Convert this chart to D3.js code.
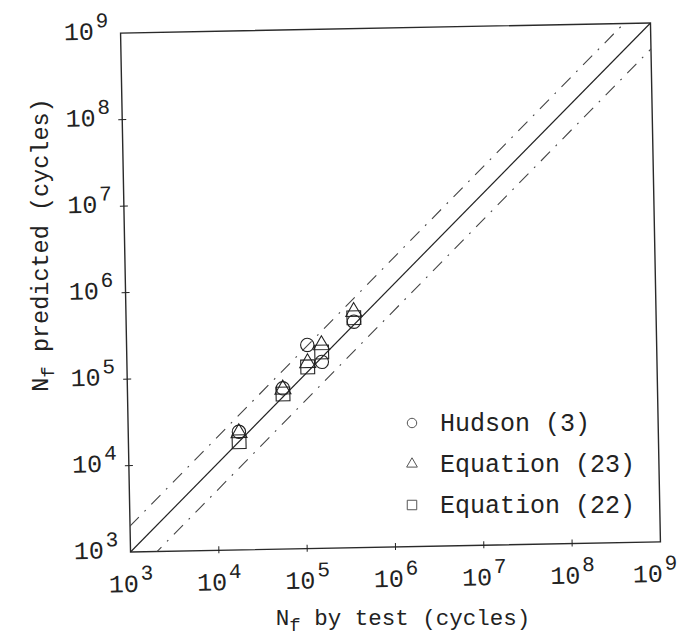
<!DOCTYPE html>
<html>
<head>
<meta charset="utf-8">
<script src="https://cdn.jsdelivr.net/npm/d3@7.9.0/dist/d3.min.js"></script>
<style>
  body { margin: 0; background: #fff; }
  svg { display: block; }
  text { font-family: "Liberation Mono", "DejaVu Sans Mono", monospace; fill: #222; }
</style>
</head>
<body>
<svg id="chart" width="678" height="640"></svg>
<script>
// tick exponents shared by both axes
const exponents = [3, 4, 5, 6, 7, 8, 9];

// N_f by test (cycles), one value per specimen
const testCycles = [17900, 57500, 111000, 161000, 379000];

// N_f predicted (cycles) per method, same order as testCycles
const hudson = [23200, 72300, 226000, 143000, 410000];
const equation23 = [22500, 70300, 140000, 224000, 535000];
const equation22 = [17800, 62100, 126000, 186000, 456000];

const seriesNames = ['Hudson (3)', 'Equation (23)', 'Equation (22)'];
const bandFactor = 2;

const svg = d3.select('#chart');

// plot frame (the scan is tilted about a degree, so the plot group is rotated)
const pLeft = 125.5, pRight = 655.5, pTop = 28, pBottom = 547;
const cx = (pLeft + pRight) / 2, cy = (pTop + pBottom) / 2;

const x = d3.scaleLog().domain([1e3, 1e9]).range([pLeft, pRight]);
const y = d3.scaleLog().domain([1e3, 1e9]).range([pBottom, pTop]);

const g = svg.append('g').attr('transform', `rotate(-1.1, ${cx}, ${cy})`);

g.append('defs').append('clipPath').attr('id', 'plotclip')
  .append('rect')
  .attr('x', pLeft).attr('y', pTop)
  .attr('width', pRight - pLeft).attr('height', pBottom - pTop);

// frame
g.append('rect')
  .attr('x', pLeft).attr('y', pTop)
  .attr('width', pRight - pLeft).attr('height', pBottom - pTop)
  .attr('fill', 'none').attr('stroke', '#2a2a2a').attr('stroke-width', 1.4);

// ticks crossing the left and bottom axes
const tickVals = exponents.map(e => Math.pow(10, e));
g.selectAll('.xtick').data(tickVals.slice(1, -1)).join('line')
  .attr('x1', d => x(d)).attr('x2', d => x(d))
  .attr('y1', pBottom - 4).attr('y2', pBottom + 3)
  .attr('stroke', '#222');
g.selectAll('.ytick').data(tickVals.slice(1, -1)).join('line')
  .attr('y1', d => y(d)).attr('y2', d => y(d))
  .attr('x1', pLeft - 4).attr('x2', pLeft + 4)
  .attr('stroke', '#222');

// tick labels 10^n
function powLabel(sel) {
  sel.append('tspan').text('10');
  sel.append('tspan').attr('dx', 2).attr('dy', -12).attr('font-size', 21).text(d => d);
}
g.selectAll('.xlab').data(exponents).join('text')
  .attr('x', d => Math.min(x(Math.pow(10, d)), pRight - 6))
  .attr('y', pBottom + 40)
  .attr('text-anchor', 'middle')
  .attr('font-size', 25)
  .call(powLabel);
g.selectAll('.ylab').data(exponents).join('text')
  .attr('x', pLeft - 12)
  .attr('y', d => y(Math.pow(10, d)) + 6)
  .attr('text-anchor', 'end')
  .attr('font-size', 25)
  .call(powLabel);

// axis titles
const xt = svg.append('text')
  .attr('x', 403).attr('y', 625)
  .attr('text-anchor', 'middle').attr('font-size', 22.5);
xt.append('tspan').text('N');
xt.append('tspan').attr('dy', 6).attr('font-size', 19).text('f');
xt.append('tspan').attr('dy', -6).text(' by test (cycles)');

const yt = svg.append('text')
  .attr('transform', 'translate(48, 245) rotate(-90)')
  .attr('text-anchor', 'middle').attr('font-size', 23.5);
yt.append('tspan').text('N');
yt.append('tspan').attr('dy', 6).attr('font-size', 19).text('f');
yt.append('tspan').attr('dy', -6).text(' predicted (cycles)');

// 1:1 line and factor-of-2 bands
const plot = g.append('g').attr('clip-path', 'url(#plotclip)');
const line = d3.line().x(d => x(d[0])).y(d => y(d[1]));
plot.append('path')
  .attr('d', line([[1e3, 1e3], [1e9, 1e9]]))
  .attr('stroke', '#222').attr('stroke-width', 1.2).attr('fill', 'none');
[bandFactor, 1 / bandFactor].forEach(f => {
  plot.append('path')
    .attr('d', line([[1e2, 1e2 * f], [1e10, 1e10 * f]]))
    .attr('stroke', '#444').attr('stroke-width', 1.1).attr('fill', 'none')
    .attr('stroke-dasharray', '13,8,1.8,8');
});

// markers
const shapes = [d3.symbolCircle, d3.symbolTriangle, d3.symbolSquare];
const sizes = [140, 110, 190];
const series = [hudson, equation23, equation22];
series.forEach((vals, i) => {
  plot.selectAll(null).data(vals).join('path')
    .attr('transform', (d, j) => `translate(${x(testCycles[j])}, ${y(d)})`)
    .attr('d', d3.symbol().type(shapes[i]).size(sizes[i]))
    .attr('fill', 'none').attr('stroke', '#222').attr('stroke-width', 1.1);
});

// legend
const legendSizes = [70, 50, 90];
const legend = svg.append('g');
seriesNames.forEach((name, i) => {
  const ly = 423 + i * 41;
  legend.append('path')
    .attr('transform', `translate(412, ${ly})`)
    .attr('d', d3.symbol().type(shapes[i]).size(legendSizes[i]))
    .attr('fill', 'none').attr('stroke', '#555').attr('stroke-width', 1);
  legend.append('text')
    .attr('x', 440).attr('y', ly + 8)
    .attr('font-size', 25)
    .text(name);
});
</script>
</body>
</html>
